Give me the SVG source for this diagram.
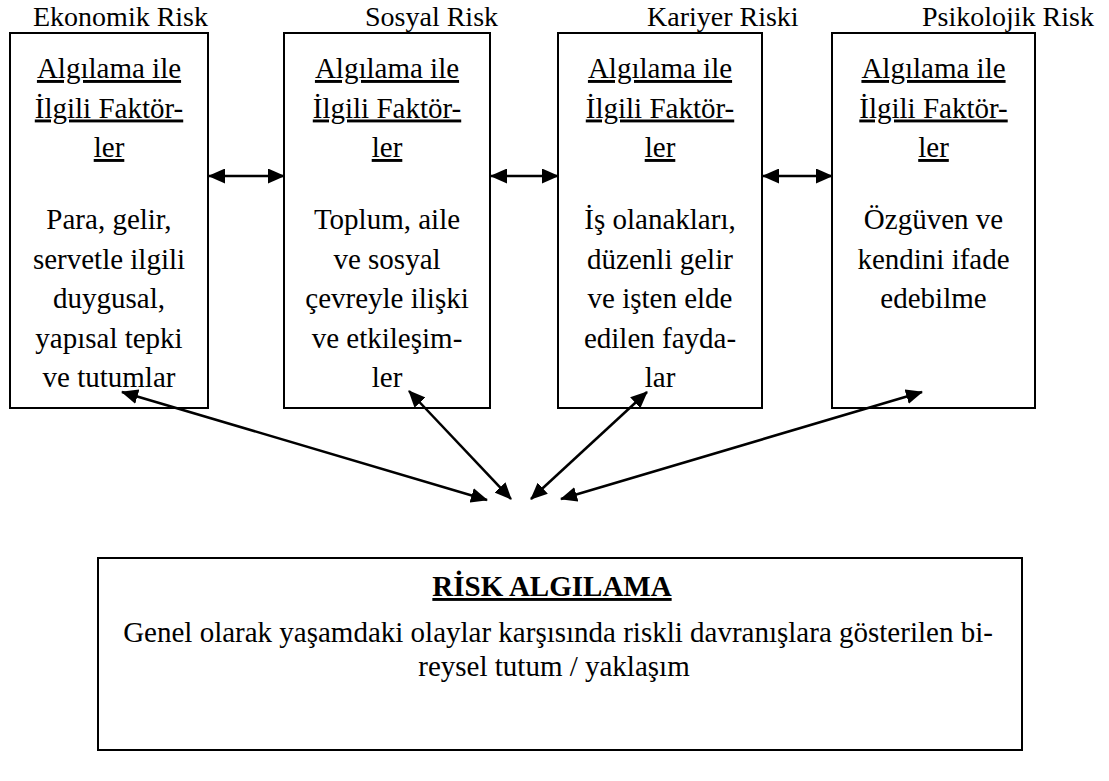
<svg xmlns="http://www.w3.org/2000/svg" width="1109" height="781" viewBox="0 0 1109 781">
<style>
.box{fill:#fff;stroke:#000;stroke-width:2}
.lbl{font-family:"Liberation Serif",serif;font-size:28px;fill:#000}
.t{font-family:"Liberation Serif",serif;font-size:29px;fill:#000;text-anchor:middle}
.u{text-decoration:underline}
.conn{stroke:#000;stroke-width:2.5;fill:none;marker-start:url(#ah);marker-end:url(#ah)}
</style>
<defs>
<marker id="ah" markerUnits="userSpaceOnUse" markerWidth="17" markerHeight="15" viewBox="0 0 17 15" refX="16" refY="7.5" orient="auto-start-reverse">
<path d="M0,0 L17,7.5 L0,15 Z" fill="#000"/>
</marker>
</defs>
<rect width="1109" height="781" fill="#fff"/>
<text class="lbl" x="33" y="26">Ekonomik Risk</text>
<text class="lbl" x="365" y="26">Sosyal Risk</text>
<text class="lbl" x="647" y="26">Kariyer Riski</text>
<text class="lbl" x="922" y="26">Psikolojik Risk</text>
<g id="ekonomik">
<rect class="box" x="10" y="33" width="198" height="375"/>
<text class="t u" x="109" y="78">Algılama ile</text>
<text class="t u" x="109" y="117.5">İlgili Faktör-</text>
<text class="t u" x="109" y="157">ler</text>
<text class="t" x="109" y="229">Para, gelir,</text>
<text class="t" x="109" y="268.5">servetle ilgili</text>
<text class="t" x="109" y="308">duygusal,</text>
<text class="t" x="109" y="347.5">yapısal tepki</text>
<text class="t" x="109" y="387">ve tutumlar</text>
</g>
<g id="sosyal">
<rect class="box" x="284" y="33" width="206" height="375"/>
<text class="t u" x="387" y="78">Algılama ile</text>
<text class="t u" x="387" y="117.5">İlgili Faktör-</text>
<text class="t u" x="387" y="157">ler</text>
<text class="t" x="387" y="229">Toplum, aile</text>
<text class="t" x="387" y="268.5">ve sosyal</text>
<text class="t" x="387" y="308">çevreyle ilişki</text>
<text class="t" x="387" y="347.5">ve etkileşim-</text>
<text class="t" x="387" y="387">ler</text>
</g>
<g id="kariyer">
<rect class="box" x="558" y="33" width="204" height="375"/>
<text class="t u" x="660" y="78">Algılama ile</text>
<text class="t u" x="660" y="117.5">İlgili Faktör-</text>
<text class="t u" x="660" y="157">ler</text>
<text class="t" x="660" y="229">İş olanakları,</text>
<text class="t" x="660" y="268.5">düzenli gelir</text>
<text class="t" x="660" y="308">ve işten elde</text>
<text class="t" x="660" y="347.5">edilen fayda-</text>
<text class="t" x="660" y="387">lar</text>
</g>
<g id="psikolojik">
<rect class="box" x="832" y="33" width="203" height="375"/>
<text class="t u" x="933.5" y="78">Algılama ile</text>
<text class="t u" x="933.5" y="117.5">İlgili Faktör-</text>
<text class="t u" x="933.5" y="157">ler</text>
<text class="t" x="933.5" y="229">Özgüven ve</text>
<text class="t" x="933.5" y="268.5">kendini ifade</text>
<text class="t" x="933.5" y="308">edebilme</text>
</g>
<g id="risk-algilama">
<rect class="box" x="98" y="558" width="924" height="192"/>
<text class="t u" x="552" y="596" font-weight="bold" font-size="28">RİSK ALGILAMA</text>
<text class="t" x="558" y="642">Genel olarak yaşamdaki olaylar karşısında riskli davranışlara gösterilen bi-</text>
<text class="t" x="554" y="676">reysel tutum / yaklaşım</text>
</g>
<g id="connectors">
<line class="conn" x1="209" y1="176" x2="284" y2="176"/>
<line class="conn" x1="491" y1="176" x2="558" y2="176"/>
<line class="conn" x1="763" y1="176" x2="832" y2="176"/>
<line class="conn" x1="122" y1="392" x2="487" y2="500"/>
<line class="conn" x1="409" y1="391" x2="511" y2="499"/>
<line class="conn" x1="647" y1="392" x2="531" y2="499"/>
<line class="conn" x1="922" y1="392" x2="561" y2="499"/>
</g>
</svg>
